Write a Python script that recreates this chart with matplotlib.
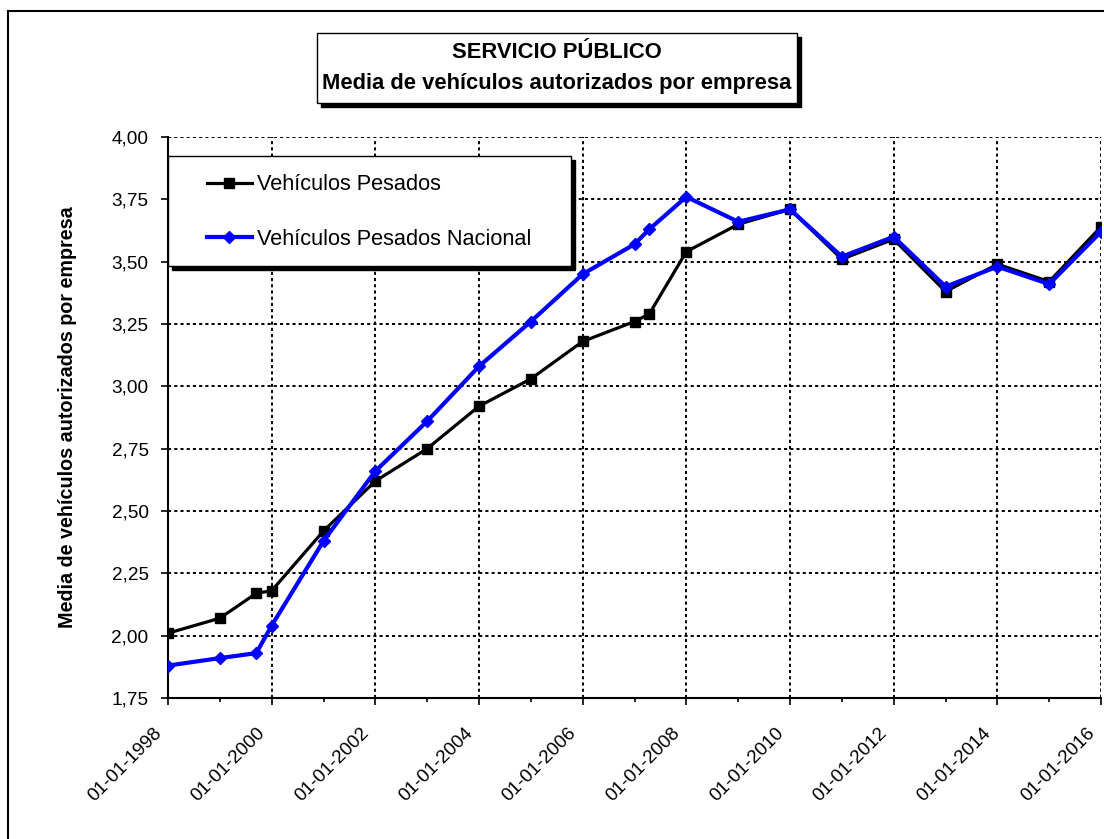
import datetime as dt
import matplotlib
matplotlib.use('Agg')
import matplotlib.pyplot as plt
import matplotlib.dates as mdates
from matplotlib.patches import Rectangle
from matplotlib.ticker import FuncFormatter
from matplotlib.transforms import ScaledTranslation

plt.rcParams['font.family'] = ['Liberation Sans', 'DejaVu Sans']

# fechas de las observaciones
fechas = ['1998-01-01', '1999-01-01', '1999-09-15', '2000-01-01', '2001-01-01',
          '2002-01-01', '2003-01-01', '2004-01-01', '2005-01-01', '2006-01-01',
          '2007-01-01', '2007-04-15', '2008-01-01', '2009-01-01', '2010-01-01',
          '2011-01-01', '2012-01-01', '2013-01-01', '2014-01-01', '2015-01-01',
          '2016-01-01']
pesados = [2.01, 2.07, 2.17, 2.18, 2.42, 2.62, 2.75, 2.92, 3.03, 3.18,
           3.26, 3.29, 3.54, 3.65, 3.71, 3.51, 3.59, 3.38, 3.49, 3.42, 3.64]
pesados_nac = [1.88, 1.91, 1.93, 2.04, 2.38, 2.66, 2.86, 3.08, 3.26, 3.45,
               3.57, 3.63, 3.76, 3.66, 3.71, 3.52, 3.60, 3.40, 3.48, 3.41, 3.62]
yticks = [1.75, 2.00, 2.25, 2.50, 2.75, 3.00, 3.25, 3.50, 3.75, 4.00]

x = [dt.datetime.strptime(f, '%Y-%m-%d') for f in fechas]

fig = plt.figure(figsize=(11.04, 8.39), dpi=100)
ax = fig.add_axes([168/1104, 1-698/839, (1101-168)/1104, (698-137)/839])

ax.plot(x, pesados, color='black', lw=2.3, marker='s', ms=7,
        label='Vehículos Pesados', zorder=3)
ax.plot(x, pesados_nac, color='#0000ff', lw=3.0, marker='D', ms=6.5,
        label='Vehículos Pesados Nacional', zorder=4)

ax.set_xlim(dt.datetime(1998, 1, 1), dt.datetime(2016, 1, 1))
ax.set_ylim(1.75, 4.0)
ax.set_yticks(yticks)
ax.yaxis.set_major_formatter(FuncFormatter(lambda v, p: ('%.2f' % v).replace('.', ',')))
ax.xaxis.set_major_locator(mdates.YearLocator(2))
ax.xaxis.set_minor_locator(mdates.YearLocator(1))
ax.xaxis.set_major_formatter(mdates.DateFormatter('%d-%m-%Y'))

ax.grid(True, which='major', color='black', lw=1.4, ls=(0, (1.6, 1.6)))
for s in ['top', 'right']:
    ax.spines[s].set_visible(False)
for s in ['left', 'bottom']:
    ax.spines[s].set_linewidth(1.5)
ax.tick_params(axis='y', which='major', length=5, width=1.2, labelsize=13.7, pad=9)
ax.tick_params(axis='x', which='major', length=5, width=1.2, labelsize=13.6, pad=25.5)
ax.tick_params(axis='x', which='minor', length=3, width=1.2)
fig.canvas.draw()
shift = ScaledTranslation(-9/100, 10/100, fig.dpi_scale_trans)
for lab in ax.get_xticklabels():
    lab.set_rotation(45)
    lab.set_ha('right')
    lab.set_va('center')
    lab.set_rotation_mode('anchor')
    lab.set_transform(lab.get_transform() + shift)

ax.set_ylabel('Media de vehículos autorizados por empresa', fontsize=14.2,
              fontweight='bold')
ax.yaxis.set_label_coords(-0.098, 0.5)

# caja de la leyenda con sombra
lx0, lx1, ly0, ly1 = 0.0, 0.432, 0.770, 0.966
sx, sy = 4/933, 4/561
ax.add_patch(Rectangle((lx0 + sx, ly0 - sy), lx1 - lx0, ly1 - ly0, transform=ax.transAxes,
                       facecolor='black', edgecolor='black', lw=1, zorder=9, clip_on=False))
ax.add_patch(Rectangle((lx0, ly0), lx1 - lx0, ly1 - ly0, transform=ax.transAxes,
                       facecolor='white', edgecolor='black', lw=1, zorder=9, clip_on=False))
leg = ax.legend(loc='center left', bbox_to_anchor=(39/933, 0.866), frameon=False,
                borderaxespad=0, borderpad=0, fontsize=15.7, handlelength=2.06,
                handletextpad=0.23, labelspacing=1.55)
leg.set_zorder(10)

# marco exterior (recortado por la derecha y por abajo)
fx, fy = 8/1104, 1 - 11/839
fig.add_artist(Rectangle((fx, -0.2), 1.2, fy + 0.2, transform=fig.transFigure,
                         fill=False, edgecolor='black', lw=1.5, clip_on=False))

# caja del titulo con sombra
tx, ty, tw, th = 317/1104, 1-103/839, 480/1104, 70/839
fig.add_artist(Rectangle((tx + 4/1104, ty - 4/839), tw, th, transform=fig.transFigure,
                         facecolor='black', edgecolor='black', lw=1))
fig.add_artist(Rectangle((tx, ty), tw, th, transform=fig.transFigure,
                         facecolor='white', edgecolor='black', lw=1))
fig.text(tx + tw/2, 1-52/839, 'SERVICIO PÚBLICO', ha='center', va='center',
         fontsize=15.8, fontweight='bold')
fig.text(tx + tw/2, 1-83/839, 'Media de vehículos autorizados por empresa',
         ha='center', va='center', fontsize=15.8, fontweight='bold')

fig.savefig('out.png', dpi=100)
